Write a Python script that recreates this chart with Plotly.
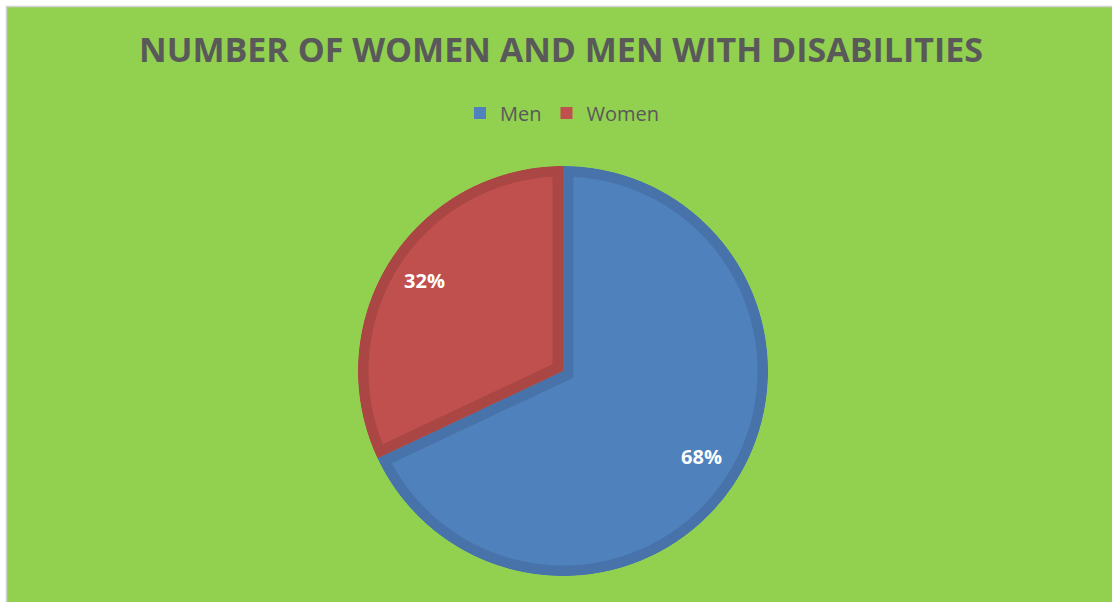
import math
import plotly.graph_objects as go

# ---- data ----
categories = ["Men", "Women"]
shares = [68, 32]
fill_colors = ["#4F81BD", "#C0504D"]
edge_colors = ["#4773AA", "#AA4644"]
title_text = "NUMBER OF WOMEN AND MEN WITH DISABILITIES"

# ---- geometry (pixels) ----
W, H = 1112, 602
cx, cy, R = 563, 371, 205     # pie centre (from top-left) and radius
band_px = 10.5                # width of the darker rim inside every slice
t = band_px / R

dom_x = [(cx - R) / W, (cx + R) / W]
dom_y = [(H - cy - R) / H, (H - cy + R) / H]

total = sum(shares)
starts, ends = [], []
acc = 0.0
for v in shares:
    starts.append(acc / total * 360.0)
    acc += v
    ends.append(acc / total * 360.0)


def to_polar(x, y):
    r = math.hypot(x, y)
    th = math.degrees(math.atan2(x, y)) if r > 0 else 0.0
    return r, th


def rim_path(a0, a1, t, n=240):
    """Slice outline minus its inset copy: a ring-shaped polygon (r, theta)."""
    span = a1 - a0
    mid = math.radians((a0 + a1) / 2)
    k = t / math.sin(math.radians(span / 2))
    ax, ay = k * math.sin(mid), k * math.cos(mid)
    rho = 1 - t

    def hit(a):
        d = math.radians(a)
        dx, dy = math.sin(d), math.cos(d)
        b = ax * dx + ay * dy
        c = ax * ax + ay * ay - rho * rho
        s = -b + math.sqrt(b * b - c)
        return ax + s * dx, ay + s * dy

    p0, p1 = hit(a0), hit(a1)

    def ang(p, ref):
        a = math.degrees(math.atan2(p[0], p[1]))
        while a - ref > 180:
            a -= 360
        while a - ref < -180:
            a += 360
        return a

    f0, f1 = ang(p0, a0), ang(p1, a1)

    pts = [(0.0, 0.0)]
    for i in range(n + 1):
        a = math.radians(a0 + span * i / n)
        pts.append((math.sin(a), math.cos(a)))
    pts.append((0.0, 0.0))
    pts.append((ax, ay))
    pts.append(p1)
    for i in range(n + 1):
        a = math.radians(f1 + (f0 - f1) * i / n)
        pts.append((rho * math.sin(a), rho * math.cos(a)))
    pts.append(p0)
    pts.append((ax, ay))
    pts.append((0.0, 0.0))

    rs, ths = zip(*(to_polar(x, y) for x, y in pts))
    return list(rs), list(ths)


fig = go.Figure()

# slices
for name, v, a0, a1, col in zip(categories, shares, starts, ends, fill_colors):
    fig.add_trace(go.Barpolar(
        r=[1], theta=[(a0 + a1) / 2], width=[a1 - a0],
        name=name, marker=dict(color=col, line=dict(width=0)),
        hoverinfo="skip",
    ))

# darker rim inside each slice
for a0, a1, col in zip(starts, ends, edge_colors):
    rs, ths = rim_path(a0, a1, t)
    fig.add_trace(go.Scatterpolar(
        r=rs, theta=ths, mode="lines", fill="toself",
        fillcolor=col, line=dict(width=0, color=col),
        showlegend=False, hoverinfo="skip",
    ))

# percentage labels
fig.add_trace(go.Scatterpolar(
    r=[0.8] * len(shares),
    theta=[(a0 + a1) / 2 for a0, a1 in zip(starts, ends)],
    text=[f"{round(v / total * 100)}%" for v in shares],
    mode="text",
    textfont=dict(family="Open Sans", size=20, color="white", weight="bold"),
    showlegend=False, hoverinfo="skip",
))

fig.update_layout(
    width=W, height=H,
    margin=dict(l=0, r=0, t=0, b=0),
    paper_bgcolor="white",
    showlegend=True,
    polar=dict(
        domain=dict(x=dom_x, y=dom_y),
        bgcolor="rgba(0,0,0,0)",
        radialaxis=dict(visible=False, range=[0, 1]),
        angularaxis=dict(visible=False, rotation=90, direction="clockwise"),
    ),
    title=dict(
        text=title_text, x=561 / W, y=1 - 50 / H,
        xanchor="center", yanchor="middle",
        font=dict(family="Open Sans", size=34, color="#595959", weight="bold"),
    ),
    legend=dict(
        orientation="h", x=562 / W, y=1 - 113 / H,
        xanchor="center", yanchor="middle",
        bgcolor="rgba(0,0,0,0)",
        font=dict(family="Open Sans", size=20, color="#595959"),
    ),
    shapes=[dict(
        type="rect", xref="paper", yref="paper", layer="below",
        x0=6.5 / W, x1=1.01, y0=-0.01, y1=1 - 6.5 / H,
        fillcolor="#92D050", line=dict(color="#D0D0D0", width=1.5),
    )],
)

fig.write_html("out.html")
